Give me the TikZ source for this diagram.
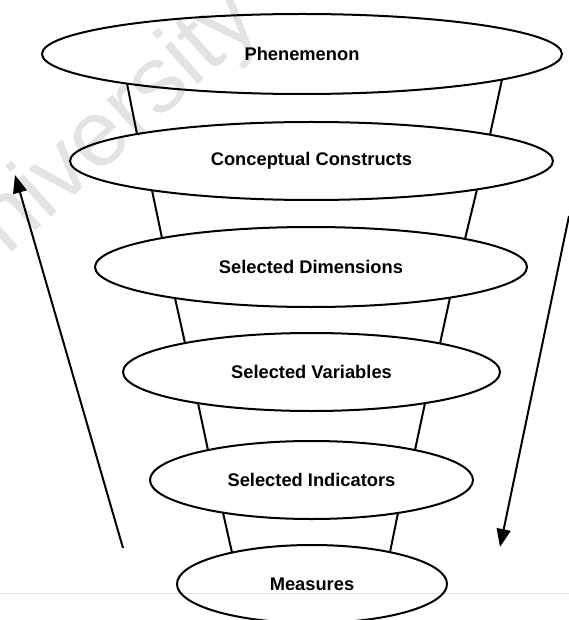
\documentclass[tikz,border=0pt]{standalone}
\usepackage{fontspec}
\setmainfont{Liberation Sans}
\usetikzlibrary{shapes.geometric,arrows.meta,calc}
\begin{document}
\begin{tikzpicture}[x=1pt,y=-1pt,
  layer/.style={ellipse, draw=black, line width=2pt, inner sep=0pt, outer sep=0pt,
    font=\fontsize{18.3}{20}\selectfont\bfseries},
  funnel/.style={line width=2pt},
  flow/.style={line width=2pt, -{Triangle[length=18pt,width=14pt]}},
  stamp/.style={rotate=42, text=black!11, font=\fontsize{94}{94}\selectfont},
]
\useasboundingbox (0,0) rectangle (569,620);
\clip (0,0) rectangle (569,620);

% faint watermark and page rule behind the drawing
\node[stamp] (wm) at (94,146) {University};
\coordinate (ruleL) at (0,593);
\coordinate (ruleR) at (569,593);
\draw[black!12, line width=0.7pt] (ruleL) -- (ruleR);

% stacked layers of the funnel
\node[layer, minimum width=520pt, minimum height=80pt] (phen) at (302,54) {Phenemenon};
\node[layer, minimum width=483pt, minimum height=78pt] (cons) at (311.5,161) {Conceptual Constructs};
\node[layer, minimum width=432pt, minimum height=80pt] (dims) at (311,267) {Selected Dimensions};
\node[layer, minimum width=377pt, minimum height=78pt] (vars) at (311.5,372) {Selected Variables};
\node[layer, minimum width=323pt, minimum height=78pt] (inds) at (311.5,480) {Selected Indicators};
\node[layer, minimum width=270pt, minimum height=78pt] (meas) at (312,584) {Measures};

% funnel walls: each joins the lower rim of a layer to the upper rim of the next
\draw[funnel] ($(phen.center)+(-175,29.58)$) -- ($(cons.center)+(-174.5,-26.96)$);
\draw[funnel] ($(phen.center)+(200,25.56)$)  -- ($(cons.center)+(178.5,-26.27)$);
\draw[funnel] ($(cons.center)+(-159.5,29.28)$) -- ($(dims.center)+(-149,-28.96)$);
\draw[funnel] ($(cons.center)+(165.5,28.40)$)  -- ($(dims.center)+(154,-28.05)$);
\draw[funnel] ($(dims.center)+(-136,31.08)$) -- ($(vars.center)+(-126.5,-28.91)$);
\draw[funnel] ($(dims.center)+(139,30.62)$)  -- ($(vars.center)+(128.5,-28.53)$);
\draw[funnel] ($(vars.center)+(-113.5,31.14)$) -- ($(inds.center)+(-103.5,-29.94)$);
\draw[funnel] ($(vars.center)+(113.5,31.14)$)  -- ($(inds.center)+(103.5,-29.94)$);
\draw[funnel] ($(inds.center)+(-88.5,32.62)$) -- ($(meas.center)+(-80,-31.41)$);
\draw[funnel] ($(inds.center)+(86.5,32.93)$)  -- ($(meas.center)+(78,-31.83)$);

% upward and downward flow arrows
\coordinate (upFrom) at (123,548);
\coordinate (upTo) at (15,175);
\coordinate (downFrom) at (569,216);
\coordinate (downTo) at (500,547);
\draw[flow] (upFrom) -- (upTo);
\draw[flow] (downFrom) -- (downTo);
\end{tikzpicture}
\end{document}
